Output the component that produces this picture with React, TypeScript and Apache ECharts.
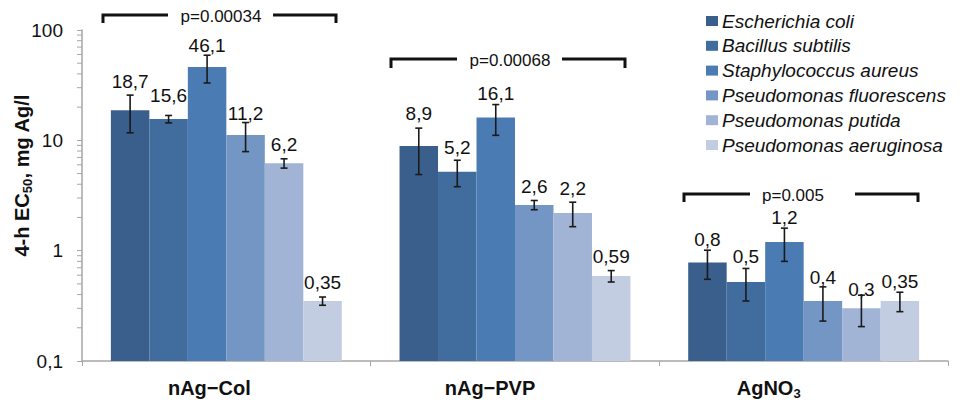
import React, { useEffect, useRef } from "react";
import * as echarts from "echarts";

const categories = ["nAg−Col", "nAg−PVP", "AgNO3"];
const bacteria = [
  "Escherichia coli",
  "Bacillus subtilis",
  "Staphylococcus aureus",
  "Pseudomonas fluorescens",
  "Pseudomonas putida",
  "Pseudomonas aeruginosa",
];
const colors = ["#3b5f8c", "#416c9e", "#4a7bb3", "#7396c4", "#a2b4d6", "#c3cde2"];

// values per bacterium across [nAg-Col, nAg-PVP, AgNO3]
const ecoli = [18.7, 8.9, 0.78];
const bsub = [15.6, 5.2, 0.52];
const saur = [46.1, 16.1, 1.2];
const pflu = [11.2, 2.6, 0.35];
const pput = [6.2, 2.2, 0.3];
const paer = [0.35, 0.59, 0.35];
const values = [ecoli, bsub, saur, pflu, pput, paer];

const ecoliErr = [7, 4, 0.23];
const bsubErr = [1.2, 1.4, 0.17];
const saurErr = [13, 5, 0.4];
const pfluErr = [3.3, 0.25, 0.12];
const pputErr = [0.6, 0.55, 0.095];
const paerErr = [0.03, 0.07, 0.07];
const errors = [ecoliErr, bsubErr, saurErr, pfluErr, pputErr, paerErr];

const ecoliLbl = ["18,7", "8,9", "0,8"];
const bsubLbl = ["15,6", "5,2", "0,5"];
const saurLbl = ["46,1", "16,1", "1,2"];
const pfluLbl = ["11,2", "2,6", "0,4"];
const pputLbl = ["6,2", "2,2", "0,3"];
const paerLbl = ["0,35", "0,59", "0,35"];
const labels = [ecoliLbl, bsubLbl, saurLbl, pfluLbl, pputLbl, paerLbl];

const minorTickValues = [
  0.2, 0.3, 0.4, 0.5, 0.6, 0.7, 0.8, 0.9,
  2, 3, 4, 5, 6, 7, 8, 9,
  20, 30, 40, 50, 60, 70, 80, 90,
];

const pValues = ["p=0.00034", "p=0.00068", "p=0.005"];

// layout config (extra upward shift of hand-placed value labels, px)
const labelLift = [
  [10, 14, 5],
  [5, 6, 7],
  [3, 6, 6],
  [3, 0, 5],
  [0, 6, 0],
  [0, 1, 1],
];
// layout config: leftward shift of category labels, px
const catLabelShift = [17, 25, 35];

const AXIS_MIN = 0.1;
const AXIS_MAX = 100;
const FONT = "Liberation Sans, Arial, sans-serif";
const GAP = 0.2;

export default function App() {
  const ref = useRef<HTMLDivElement>(null);
  useEffect(() => {
    if (!ref.current) return;
    const chart = echarts.init(ref.current, undefined, { renderer: "svg" });

    const barSeries = bacteria.map((name, j) => ({
      name,
      type: "custom",
      data: values[j].map((v, i) => [i, v]),
      encode: { x: 0, y: 1 },
      itemStyle: { color: colors[j] },
      z: 2,
      renderItem: (params: any, api: any) => {
        const cat = api.value(0);
        const v = api.value(1);
        const pTop = api.coord([cat, v]);
        const pBase = api.coord([cat, AXIS_MIN]);
        const catW = api.coord([1, 1])[0] - api.coord([0, 1])[0];
        const bw = (catW * (1 - GAP)) / 6;
        const x0 = pTop[0] - (catW * (1 - GAP)) / 2 + j * bw;
        return {
          type: "group",
          children: [
            {
              type: "rect",
              shape: { x: x0, y: pTop[1], width: bw, height: pBase[1] - pTop[1] },
              style: { fill: colors[j] },
            },
            {
              type: "text",
              x: x0 + bw / 2,
              y: pTop[1] - 9 - labelLift[j][params.dataIndex],
              z2: 10,
              style: {
                text: labels[j][params.dataIndex],
                fontFamily: FONT,
                fontSize: 19,
                fill: "#111",
                align: "center",
                verticalAlign: "bottom",
              },
            },
          ],
        };
      },
    }));

    const errData: number[][] = [];
    values.forEach((arr, j) =>
      arr.forEach((v, i) => errData.push([i, v - errors[j][i], v + errors[j][i], j]))
    );

    const errSeries = {
      type: "custom",
      name: "err",
      data: errData,
      encode: { x: 0, y: [1, 2] },
      silent: true,
      z: 5,
      renderItem: (params: any, api: any) => {
        const cat = api.value(0);
        const lo = api.value(1);
        const hi = api.value(2);
        const j = api.value(3);
        const pLo = api.coord([cat, lo]);
        const pHi = api.coord([cat, hi]);
        const catW = api.coord([1, 1])[0] - api.coord([0, 1])[0];
        const bw = (catW * (1 - GAP)) / 6;
        const x = pLo[0] - (catW * (1 - GAP)) / 2 + (j + 0.5) * bw;
        const cap = 3.5;
        const style = { stroke: "#1a1a1a", lineWidth: 1.6 };
        return {
          type: "group",
          children: [
            { type: "line", shape: { x1: x, y1: pLo[1], x2: x, y2: pHi[1] }, style },
            { type: "line", shape: { x1: x - cap, y1: pLo[1], x2: x + cap, y2: pLo[1] }, style },
            { type: "line", shape: { x1: x - cap, y1: pHi[1], x2: x + cap, y2: pHi[1] }, style },
          ],
        };
      },
    };

    const minorSeries = {
      type: "custom",
      name: "minor",
      data: minorTickValues.map((v) => [0, v]),
      encode: { x: 0, y: 1 },
      silent: true,
      clip: false,
      z: 6,
      renderItem: (params: any, api: any) => {
        const p = api.coord([0, api.value(1)]);
        const catW = api.coord([1, 1])[0] - api.coord([0, 1])[0];
        const ax = p[0] - catW / 2;
        return {
          type: "line",
          shape: { x1: ax - 5, y1: p[1], x2: ax, y2: p[1] },
          style: { stroke: "#a6a6a6", lineWidth: 1 },
        };
      },
    };

    const bracketStyle = { stroke: "#111", lineWidth: 3, fill: null };
    const brackets: any[] = [];
    const bracketDefs = [
      { l: 103, r: 336, y: 15, lEnd: 168, rStart: 273, tx: 221, drop: 8 },
      { l: 391, r: 625, y: 59, lEnd: 457, rStart: 562, tx: 510, drop: 9 },
      { l: 684, r: 918, y: 194, lEnd: 750, rStart: 855, tx: 793, drop: 8 },
    ];
    bracketDefs.forEach((b, k) => {
      brackets.push({
        type: "polyline",
        shape: { points: [[b.l, b.y + b.drop], [b.l, b.y], [b.lEnd, b.y]] },
        style: bracketStyle,
      });
      brackets.push({
        type: "polyline",
        shape: { points: [[b.rStart, b.y], [b.r, b.y], [b.r, b.y + b.drop]] },
        style: bracketStyle,
      });
      brackets.push({
        type: "text",
        x: b.tx,
        y: b.y + 1,
        style: {
          text: pValues[k],
          fontFamily: FONT,
          fontSize: 17,
          fill: "#111",
          align: "center",
          verticalAlign: "middle",
        },
      });
    });

    const subRich = (size: number) => ({
      fontFamily: FONT,
      fontSize: size,
      fontWeight: "bold",
      color: "#111",
      lineHeight: 14,
      verticalAlign: "bottom",
    });
    const boldRich = (size: number) => ({
      fontFamily: FONT,
      fontSize: size,
      fontWeight: "bold",
      color: "#111",
      lineHeight: 24,
    });

    const catRich: any = { b: boldRich(20), s: subRich(13) };
    catLabelShift.forEach((s, i) => {
      catRich["g" + i] = { width: 2 * s, height: 1 };
    });

    chart.setOption({
      animation: false,
      backgroundColor: "#fff",
      textStyle: { fontFamily: FONT },
      grid: {
        left: 82,
        right: 26,
        top: 30,
        bottom: 41,
        containLabel: false,
        outerBoundsMode: "none",
      },
      legend: {
        data: bacteria,
        orient: "vertical",
        left: 706,
        top: 11,
        padding: 0,
        itemWidth: 12,
        itemHeight: 10,
        itemGap: 4.8,
        icon: "rect",
        selectedMode: false,
        textStyle: {
          fontFamily: FONT,
          fontSize: 19,
          fontStyle: "italic",
          color: "#111",
          lineHeight: 20,
          padding: [0, 0, 0, -1],
        },
      },
      xAxis: {
        type: "category",
        data: categories,
        axisLine: { lineStyle: { color: "#a6a6a6", width: 1.5 } },
        axisTick: { show: true, length: 5, lineStyle: { color: "#a6a6a6" } },
        axisLabel: {
          margin: 15,
          formatter: (v: string, i: number) =>
            (v === "AgNO3" ? "{b|AgNO}{s|3}" : "{b|" + v + "}") + "{g" + i + "|}",
          rich: catRich,
        },
      },
      yAxis: {
        type: "log",
        logBase: 10,
        min: AXIS_MIN,
        max: AXIS_MAX,
        name: "{sp|}{b|4-h EC}{s|50}{b|, mg Ag/l}",
        nameLocation: "middle",
        nameRotate: 90,
        nameGap: 48,
        nameMoveOverlap: false,
        nameTextStyle: {
          rich: {
            sp: { width: 40, height: 1 },
            b: boldRich(20),
            s: subRich(13),
          },
        },
        axisLine: { show: true, lineStyle: { color: "#a6a6a6", width: 1.5 } },
        axisTick: { show: true, length: 5, lineStyle: { color: "#a6a6a6" } },
        splitLine: { show: false },
        axisLabel: {
          margin: 19,
          fontFamily: FONT,
          fontSize: 19,
          color: "#111",
          formatter: (v: number) => String(v).replace(".", ","),
        },
      },
      series: [...barSeries, errSeries, minorSeries],
      graphic: brackets,
    });

    return () => chart.dispose();
  }, []);

  return (
    <div
      ref={ref}
      style={{ position: "fixed", left: 0, top: 0, width: 974, height: 402, background: "#fff" }}
    />
  );
}
